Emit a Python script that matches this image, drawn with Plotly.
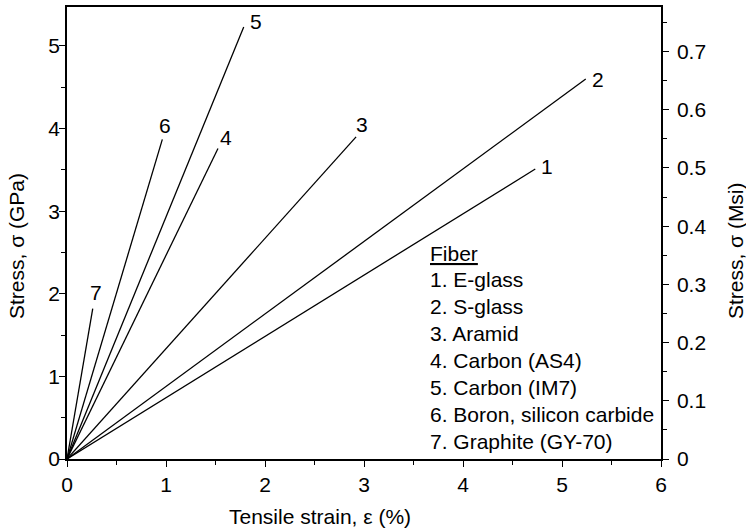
import plotly.graph_objects as go

# ---- data ----
fiber_ids = ["1", "2", "3", "4", "5", "6", "7"]
fiber_names = ["E-glass", "S-glass", "Aramid", "Carbon (AS4)", "Carbon (IM7)",
               "Boron, silicon carbide", "Graphite (GY-70)"]
strain_end = [4.73, 5.24, 2.92, 1.525, 1.785, 0.963, 0.26]   # %
stress_end = [3.51, 4.60, 3.90, 3.76, 5.23, 3.87, 1.82]      # GPa
x_ticks = [0, 1, 2, 3, 4, 5, 6]
y_ticks = [0, 1, 2, 3, 4, 5]
y2_ticks = [0, 0.1, 0.2, 0.3, 0.4, 0.5, 0.6, 0.7]
msi_per_gpa = 0.1419

# label offsets (px) for the end-of-line numbers (style only)
label_dx = [12, 12, 6, 8, 12, 3, 3]
label_dy = [3, 0, 12, 11, 5, 14, 16]

FONT = "Liberation Sans, Arial, Helvetica, sans-serif"
FS = 21
ymax = 5.472

fig = go.Figure()
for i in range(len(fiber_ids)):
    fig.add_trace(go.Scatter(x=[0, strain_end[i]], y=[0, stress_end[i]], mode="lines",
                             line=dict(color="black", width=1.3), showlegend=False,
                             hoverinfo="skip", name=fiber_names[i]))
    fig.add_annotation(x=strain_end[i], y=stress_end[i], text=fiber_ids[i], showarrow=False,
                       xref="x", yref="y", xanchor="center", yanchor="middle",
                       xshift=label_dx[i], yshift=label_dy[i],
                       font=dict(family=FONT, size=FS, color="black"))

# secondary axis (Msi) carries the same curve converted
fig.add_trace(go.Scatter(x=[0, strain_end[0]], y=[0, stress_end[0] * msi_per_gpa], mode="lines",
                         line=dict(color="rgba(0,0,0,0)", width=0), yaxis="y2",
                         showlegend=False, hoverinfo="skip"))

axis_common = dict(showgrid=False, zeroline=False, showline=True, linecolor="black",
                   linewidth=1.5, ticks="outside", ticklen=6, tickwidth=1.3, automargin=False,
                   tickcolor="black", tickfont=dict(family=FONT, size=FS, color="black"))

fig.update_layout(
    width=746, height=531,
    margin=dict(l=67, r=85, t=7, b=72, autoexpand=False),
    paper_bgcolor="white", plot_bgcolor="white",
    xaxis=dict(range=[0, 6], tickvals=x_ticks, mirror=True,
               minor=dict(dtick=0.5, ticks="outside", ticklen=4, tickcolor="black", tickwidth=1),
               ticklabelstandoff=0, **axis_common),
    yaxis=dict(range=[0, ymax], tickvals=y_ticks,
               minor=dict(dtick=0.5, ticks="outside", ticklen=4, tickcolor="black", tickwidth=1),
               ticklabelstandoff=-5, **axis_common),
    yaxis2=dict(range=[0, ymax * msi_per_gpa], tickvals=y2_ticks, overlaying="y", side="right",
                minor=dict(dtick=0.05, ticks="outside", ticklen=4, tickcolor="black", tickwidth=1),
                ticklabelstandoff=4, **axis_common),
)

# axis titles
fig.add_annotation(text="Tensile strain, \u03b5 (%)", xref="paper", yref="paper", x=0.426, y=-0.128,
                   showarrow=False, xanchor="center", yanchor="middle",
                   font=dict(family=FONT, size=FS, color="black"))
fig.add_annotation(text="Stress, \u03c3 (GPa)", xref="paper", yref="paper", x=-0.086, y=0.471,
                   showarrow=False, textangle=-90, xanchor="center", yanchor="middle",
                   font=dict(family=FONT, size=FS, color="black"))
fig.add_annotation(text="Stress, \u03c3 (Msi)", xref="paper", yref="paper", x=1.1246, y=0.460,
                   showarrow=False, textangle=-90, xanchor="center", yanchor="middle",
                   font=dict(family=FONT, size=FS, color="black"))

# key block
key_lines = ["<u>Fiber</u>"] + [f"{fiber_ids[i]}. {fiber_names[i]}" for i in range(len(fiber_ids))]
key_top_px = 253
key_step_px = 26.9
for j, t in enumerate(key_lines):
    ypx = key_top_px + j * key_step_px
    fig.add_annotation(text=t, xref="paper", yref="paper", x=(427.5 - 67) / 594,
                       y=(459 - ypx) / 452, showarrow=False, xanchor="left", yanchor="middle",
                       font=dict(family=FONT, size=FS, color="black"))

fig.write_html("out.html", config={"displayModeBar": False},
               post_script="document.body.style.margin='0';document.body.style.overflow='hidden';")
